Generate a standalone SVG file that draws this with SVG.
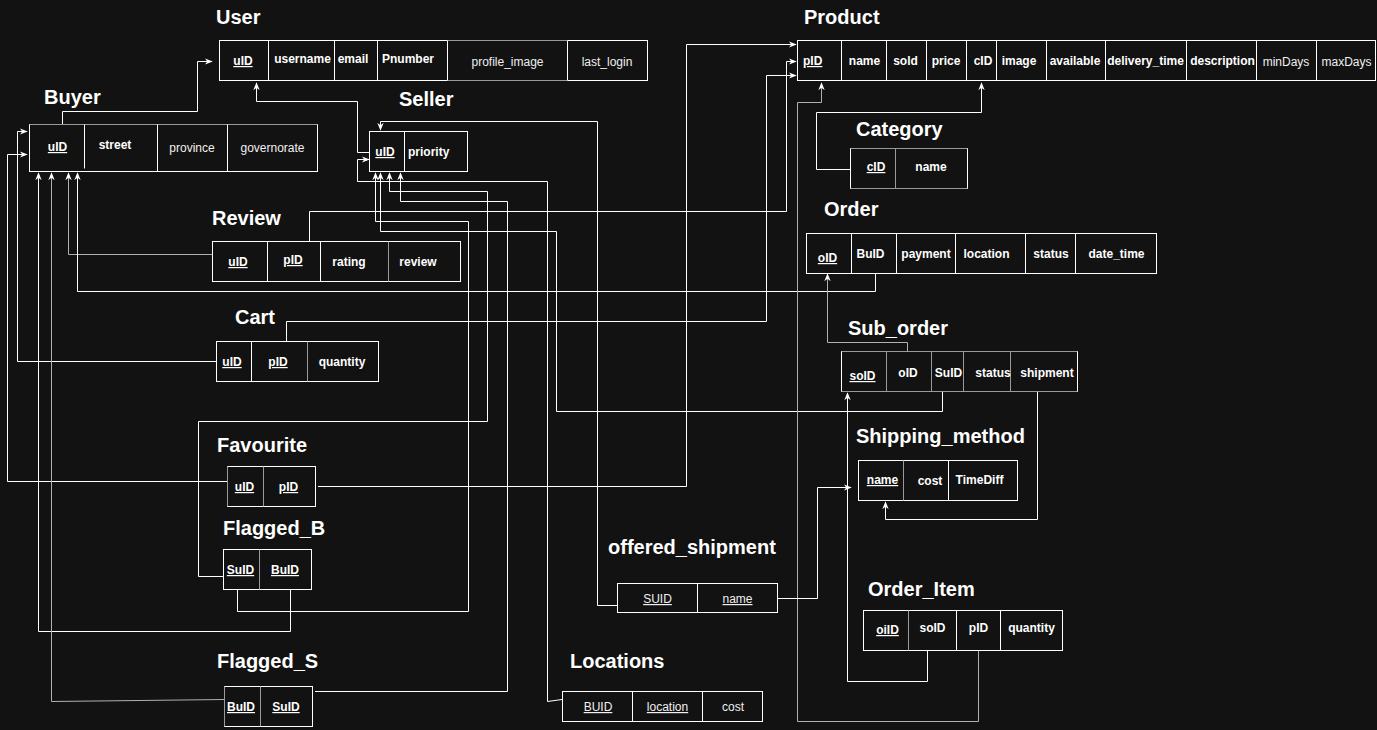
<svg xmlns="http://www.w3.org/2000/svg" width="1377" height="730" viewBox="0 0 1377 730">
<style>
.t{font-family:"Liberation Sans",Arial,sans-serif;font-size:20px;font-weight:bold;fill:#fff}
.f{font-family:"Liberation Sans",Arial,sans-serif;font-size:12px;font-weight:bold;fill:#fff;text-anchor:middle}
.r{font-weight:normal;fill:#f0f0f0}
.s{text-anchor:start}
.k{text-decoration:underline}
.tb{fill:none;stroke:#fff;stroke-width:1}
.dv{stroke:#fff;stroke-width:1}
.gd{stroke:#9a9a9a;stroke-width:1}
.c{fill:none;stroke:#fff;stroke-width:1;marker-end:url(#ar)}
.cg{stroke:#b0b0b0}
</style>
<defs>
<marker id="ar" viewBox="0 0 10 10" refX="9" refY="5" markerWidth="8" markerHeight="8" orient="auto" markerUnits="userSpaceOnUse">
<path d="M0,1 L10,5 L0,9 L3,5 z" fill="#fff"/>
</marker>
</defs>
<rect x="0" y="0" width="1377" height="730" fill="#121212"/>

<g id="connectors">
<path class="c" d="M62.5,124 V111.5 H197.5 V61.5 H212"/>
<path class="c" d="M369,152.5 H357.5 V101.5 H256.5 V83"/>
<path class="c" d="M216,361.5 H17.5 V131.5 H27"/>
<path class="c" d="M227,481.5 H7.5 V154.5 H27"/>
<path class="c cg" d="M212,254.5 H68.5 V173"/>
<path class="c" d="M875.5,273 V291.5 H77.5 V173"/>
<path class="c" d="M290.5,589 V631.5 H38.5 V173"/>
<path class="c cg" d="M225,699.5 L51.5,701.5 V173"/>
<path class="c" d="M224,576.5 H198.5 V421.5 H487.5 V191.5 H389.5 V173"/>
<path class="c" d="M237.5,589 V611.5 H468.5 V221.5 H375.5 V173"/>
<path class="c" d="M315,691.5 H507.5 V201.5 H400.5 V173"/>
<path class="c" d="M942.5,392 V411.5 H556.5 V231.5 H380.5 V173"/>
<path class="c" d="M562,699.5 L547.5,701.5 V181.5 H357.5 V159.5 H369"/>
<path class="c" d="M617,605.5 H597.5 V121.5 H380.5 V130"/>
<path class="c" d="M318,486.5 H686.5 V44.5 H796"/>
<path class="c" d="M309.5,241 V211.5 H786.5 V61.5 H796"/>
<path class="c" d="M286.5,341 V321.5 H766.5 V75.5 H796"/>
<path class="c cg" d="M978.5,651 V721.5 H797.5 V102.5 H821.5 V83"/>
<path class="c" d="M850,169.5 H816.5 V112.5 H981.5 V83"/>
<path class="c cg" d="M907.5,352 V342.5 H827.5 V274"/>
<path class="c" d="M927.5,650 V681.5 H847.5 V393"/>
<path class="c" d="M1037.5,392 V519.5 H885.5 V502"/>
<path class="c" d="M778,598.5 H817.5 V487.5 H851"/>
</g>

<g id="User">
<text class="t" x="216" y="24">User</text>
<rect class="tb" x="219.5" y="40.5" width="428" height="40"/>
<path class="dv" d="M268.5,40.5V80.5M334.5,40.5V80.5M377.5,40.5V80.5M447.5,40.5V80.5M567.5,40.5V80.5"/>
<path class="gd" d="M447.5,40.5H567.5M447.5,80.5H567.5"/>
<text class="f k" x="243" y="65">uID</text>
<text class="f" x="302.5" y="63">username</text>
<text class="f" x="353" y="63">email</text>
<text class="f" x="408" y="63">Pnumber</text>
<text class="f r" x="507.5" y="66">profile_image</text>
<text class="f r" x="607" y="66">last_login</text>
</g>

<g id="Buyer">
<text class="t" x="44" y="104">Buyer</text>
<rect class="tb" x="29.5" y="124.5" width="288" height="47"/>
<path class="gd" d="M29.5,124.5H317.5"/>
<path class="dv" d="M84.5,124.5V168.5M157.5,124.5V171.5M227.5,124.5V171.5"/>
<text class="f k" x="57.5" y="151">uID</text>
<text class="f" x="115" y="149">street</text>
<text class="f r" x="192" y="152">province</text>
<text class="f r" x="272.5" y="152">governorate</text>
</g>

<g id="Seller">
<text class="t" x="399" y="106">Seller</text>
<rect class="tb" x="369.5" y="131.5" width="98" height="40"/>
<path class="dv" d="M404.5,131.5V171.5"/>
<text class="f k" x="385" y="156">uID</text>
<text class="f s" x="408" y="156">priority</text>
</g>

<g id="Review">
<text class="t" x="212" y="225">Review</text>
<rect class="tb" x="212.5" y="241.5" width="248" height="40"/>
<path class="dv" d="M267.5,241.5V281.5M320.5,241.5V281.5"/>
<path class="gd" d="M388.5,241.5V281.5"/>
<text class="f k" x="238" y="266">uID</text>
<text class="f k" x="293" y="264">pID</text>
<text class="f" x="349" y="266">rating</text>
<text class="f" x="418" y="266">review</text>
</g>

<g id="Cart">
<text class="t" x="235" y="324">Cart</text>
<rect class="tb" x="216.5" y="341.5" width="162" height="40"/>
<path class="dv" d="M251.5,341.5V381.5"/>
<path class="gd" d="M307.5,341.5V381.5"/>
<text class="f k" x="232" y="366">uID</text>
<text class="f k" x="278" y="366">pID</text>
<text class="f" x="342" y="366">quantity</text>
</g>

<g id="Favourite">
<text class="t" x="217" y="452">Favourite</text>
<rect class="tb" x="227.5" y="466.5" width="88" height="40"/>
<path class="gd" d="M263.5,466.5V506.5M227.5,466.5V506.5"/>
<text class="f k" x="244.5" y="491">uID</text>
<text class="f k" x="288.5" y="491">pID</text>
</g>

<g id="Flagged_B">
<text class="t" x="223" y="535">Flagged_B</text>
<rect class="tb" x="223.5" y="549.5" width="88" height="40"/>
<path class="gd" d="M259.5,549.5V589.5"/>
<text class="f k" x="240.5" y="574">SuID</text>
<text class="f k" x="285" y="574">BuID</text>
</g>

<g id="Flagged_S">
<text class="t" x="217" y="668">Flagged_S</text>
<rect class="tb" x="224.5" y="686.5" width="88" height="40"/>
<path class="gd" d="M260.5,686.5V726.5M224.5,686.5V726.5"/>
<text class="f k" x="241" y="711">BuID</text>
<text class="f k" x="286" y="711">SuID</text>
</g>

<g id="Product">
<text class="t" x="804" y="24">Product</text>
<rect class="tb" x="797.5" y="40.5" width="578" height="40"/>
<path class="dv" d="M841.5,40.5V80.5M886.5,40.5V80.5M926.5,40.5V80.5M966.5,40.5V80.5M996.5,40.5V80.5M1046.5,40.5V80.5M1105.5,40.5V80.5M1186.5,40.5V80.5M1256.5,40.5V80.5M1316.5,40.5V80.5"/>
<text class="f k s" x="803" y="65">pID</text>
<text class="f" x="864.5" y="65">name</text>
<text class="f" x="905.5" y="65">sold</text>
<text class="f" x="946" y="65">price</text>
<text class="f" x="983" y="65">cID</text>
<text class="f" x="1019" y="65">image</text>
<text class="f" x="1075" y="65">available</text>
<text class="f" x="1145.5" y="65">delivery_time</text>
<text class="f" x="1222.5" y="65">description</text>
<text class="f r" x="1286" y="66">minDays</text>
<text class="f r" x="1346.5" y="66">maxDays</text>
</g>

<g id="Category">
<text class="t" x="856" y="136">Category</text>
<rect class="tb" x="850.5" y="148.5" width="117" height="40"/>
<path class="gd" d="M850.5,148.5H967.5M850.5,188.5H967.5M895.5,148.5V188.5"/>
<text class="f k" x="876" y="171">cID</text>
<text class="f" x="931" y="171">name</text>
</g>

<g id="Order">
<text class="t" x="824" y="216">Order</text>
<rect class="tb" x="806.5" y="233.5" width="350" height="40"/>
<path class="dv" d="M851.5,233.5V273.5M896.5,233.5V273.5M955.5,233.5V273.5M1025.5,233.5V273.5M1075.5,233.5V273.5"/>
<text class="f k" x="827.5" y="262">oID</text>
<text class="f" x="870.5" y="258">BuID</text>
<text class="f" x="926" y="258">payment</text>
<text class="f" x="986.5" y="258">location</text>
<text class="f" x="1051" y="258">status</text>
<text class="f" x="1116.5" y="258">date_time</text>
</g>

<g id="Sub_order">
<text class="t" x="848" y="335">Sub_order</text>
<rect class="tb" x="841.5" y="351.5" width="236" height="40" stroke="#b0b0b0"/>
<path class="gd" d="M841.5,351.5H1077.5M841.5,391.5H1077.5M886.5,351.5V391.5M931.5,351.5V391.5M963.5,351.5V391.5M1010.5,351.5V391.5"/>
<text class="f k" x="862.5" y="380">soID</text>
<text class="f" x="908" y="377">oID</text>
<text class="f" x="948.5" y="377">SuID</text>
<text class="f" x="993" y="377">status</text>
<text class="f" x="1047" y="377">shipment</text>
</g>

<g id="Shipping_method">
<text class="t" x="856" y="443">Shipping_method</text>
<rect class="tb" x="858.5" y="460.5" width="159" height="40"/>
<path class="gd" d="M903.5,460.5V500.5"/>
<path class="dv" d="M948.5,460.5V500.5"/>
<text class="f k" x="882.5" y="484">name</text>
<text class="f" x="930" y="485">cost</text>
<text class="f" x="979.5" y="484">TimeDiff</text>
</g>

<g id="offered_shipment">
<text class="t" x="608" y="554">offered_shipment</text>
<rect class="tb" x="617.5" y="583.5" width="160" height="29"/>
<path class="dv" d="M697.5,583.5V612.5"/>
<text class="f r k" x="657.5" y="603">SUID</text>
<text class="f r k" x="737.5" y="603">name</text>
</g>

<g id="Locations">
<text class="t" x="570" y="668">Locations</text>
<rect class="tb" x="562.5" y="691.5" width="200" height="30"/>
<path class="dv" d="M632.5,691.5V721.5M702.5,691.5V721.5"/>
<text class="f r k" x="598" y="711">BUID</text>
<text class="f r k" x="667.5" y="711">location</text>
<text class="f r" x="733" y="711">cost</text>
</g>

<g id="Order_Item">
<text class="t" x="868" y="596">Order_Item</text>
<rect class="tb" x="863.5" y="610.5" width="199" height="40"/>
<path class="gd" d="M908.5,610.5V650.5"/>
<path class="dv" d="M956.5,610.5V650.5M1000.5,610.5V650.5"/>
<text class="f k" x="887.5" y="634">oiID</text>
<text class="f" x="932.5" y="632">soID</text>
<text class="f" x="978.5" y="632">pID</text>
<text class="f" x="1031.5" y="632">quantity</text>
</g>
</svg>
